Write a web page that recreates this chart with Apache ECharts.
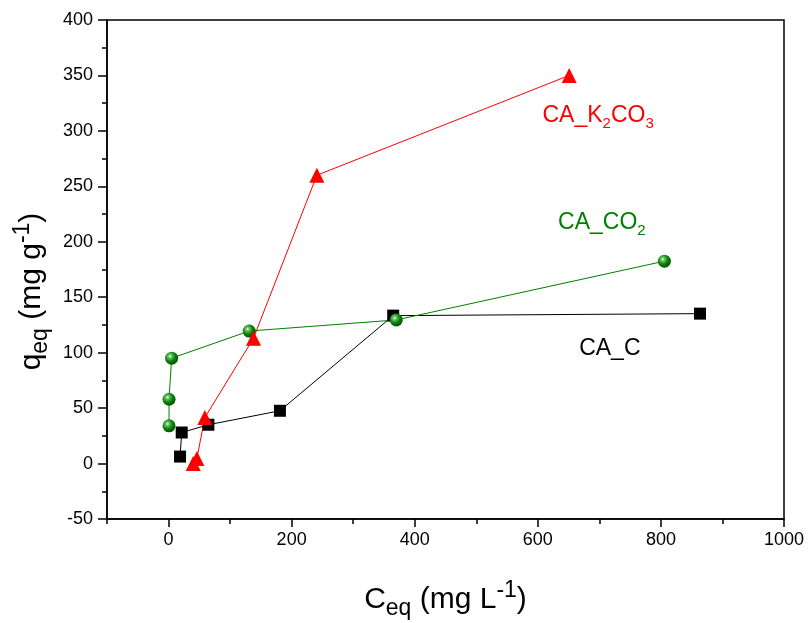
<!DOCTYPE html>
<html>
<head>
<meta charset="utf-8">
<script src="https://cdn.jsdelivr.net/npm/echarts@6/dist/echarts.min.js"></script>
<style>
  html, body { margin: 0; padding: 0; background: #fff; }
  #chart { width: 810px; height: 623px; }
</style>
</head>
<body>
<div id="chart"></div>
<script>
// data: [Ceq, qeq]
var caC = [[18.7, 6.3], [21.4, 28], [64.7, 35], [181, 47.6], [365, 133.4], [863.5, 135.2]];
var caCO2 = [[0.8, 34], [0.8, 58], [5, 95], [131, 119.5], [370, 129.5], [805.6, 182.5]];
var caK2CO3 = [[40, 0], [46, 4.5], [59, 41.5], [138, 113], [241, 260], [651, 350]];

var xMajorTicks = [0, 200, 400, 600, 800, 1000];
var xMinorTicks = [-100, 100, 300, 500, 700, 900];

var font = 'Liberation Sans, Arial, sans-serif';

var sphere = {
    type: 'radial', x: 0.38, y: 0.35, r: 0.7,
    colorStops: [
        { offset: 0, color: '#ffffff' },
        { offset: 0.18, color: '#6cc46c' },
        { offset: 0.55, color: '#0a820a' },
        { offset: 1, color: '#004a00' }
    ]
};

var titleRich = {
    n: { fontSize: 30, color: '#000', fontFamily: font },
    sub: { fontSize: 23, color: '#000', fontFamily: font, padding: [18, 0, 0, 0] },
    sup: { fontSize: 23, color: '#000', fontFamily: font, padding: [0, 0, 18, 0] }
};

var chart = echarts.init(document.getElementById('chart'));

var option = {
    animation: false,
    backgroundColor: '#fff',
    textStyle: { fontFamily: font },
    grid: {
        left: 107, right: 26, top: 20, bottom: 104,
        outerBoundsMode: 'none', containLabel: false,
        show: true, borderColor: '#000', borderWidth: 1.5, backgroundColor: 'transparent'
    },
    xAxis: [
        {
            type: 'value', min: -100, max: 1000,
            axisLine: { onZero: false, lineStyle: { color: '#000', width: 1.5 } },
            axisTick: { customValues: xMajorTicks, length: 8, lineStyle: { color: '#000', width: 1.5 } },
            axisLabel: {
                customValues: xMajorTicks, margin: 12,
                color: '#000', fontSize: 18,
                formatter: function (v) { return String(v); }
            },
            splitLine: { show: false },
            name: '{n|C}{sub|eq}{n| (mg L}{sup|-1}{n|)}',
            nameLocation: 'middle', nameGap: 60,
            nameTextStyle: { rich: titleRich }
        },
        {
            type: 'value', min: -100, max: 1000, position: 'bottom',
            axisLine: { show: false, onZero: false },
            axisTick: { customValues: xMinorTicks, length: 5, lineStyle: { color: '#000', width: 1.5 } },
            axisLabel: { show: false },
            splitLine: { show: false }
        }
    ],
    yAxis: {
        type: 'value', min: -50, max: 400, interval: 50,
        axisLine: { onZero: false, lineStyle: { color: '#000', width: 1.5 } },
        axisTick: { length: 9, lineStyle: { color: '#000', width: 1.5 } },
        minorTick: { show: true, splitNumber: 2, length: 5, lineStyle: { color: '#000', width: 1.5 } },
        axisLabel: { margin: 14, color: '#000', fontSize: 18 },
        splitLine: { show: false },
        name: '{n|q}{sub|eq}{n| (mg g}{sup|-1}{n|)}',
        nameLocation: 'middle', nameGap: 51, nameRotate: 90,
        nameTextStyle: { rich: titleRich, padding: [0, 44, 0, 0] }
    },
    series: [
        {
            name: 'CA_C', type: 'line', data: caC,
            symbol: 'rect', symbolSize: 12,
            lineStyle: { color: '#000', width: 1 },
            itemStyle: { color: '#000' }
        },
        {
            name: 'CA_CO2', type: 'line', data: caCO2,
            symbol: 'circle', symbolSize: 13,
            lineStyle: { color: '#008000', width: 1 },
            itemStyle: { color: sphere }
        },
        {
            name: 'CA_K2CO3', type: 'line', data: caK2CO3,
            symbol: 'triangle', symbolSize: 15,
            lineStyle: { color: '#ff0000', width: 1 },
            itemStyle: { color: '#ff0000' }
        }
    ]
};
chart.setOption(option);

// series annotations, placed in data coordinates
var notes = [
    { at: [698, 314], text: '{a|CA_K}{s|2}{a|CO}{s|3}', color: '#ff0000' },
    { at: [704, 217], text: '{a|CA_CO}{s|2}', color: '#008000' },
    { at: [717, 103.5], text: '{a|CA_C}', color: '#000' }
];
chart.setOption({
    graphic: notes.map(function (n) {
        var p = chart.convertToPixel({ gridIndex: 0 }, n.at);
        return {
            type: 'text', x: p[0], y: p[1],
            style: {
                text: n.text, align: 'center', verticalAlign: 'middle',
                rich: {
                    a: { fontSize: 23, fill: n.color, fontFamily: font },
                    s: { fontSize: 15, fill: n.color, fontFamily: font, padding: [16, 0, 0, 0] }
                }
            }
        };
    })
});
</script>
</body>
</html>
